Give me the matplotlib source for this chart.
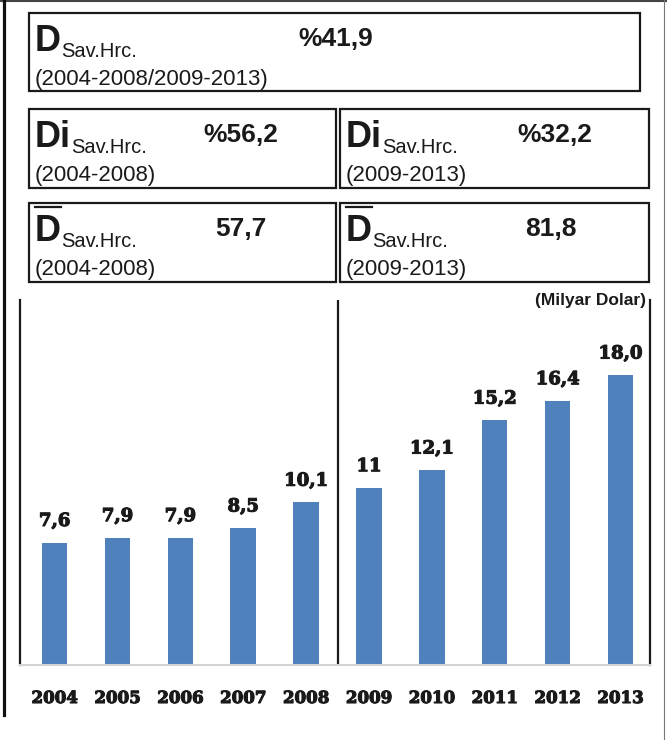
import matplotlib
matplotlib.use('Agg')
import matplotlib.pyplot as plt
import matplotlib.patheffects as pe
from matplotlib.patches import Rectangle
from matplotlib.lines import Line2D

# bar data (Milyar Dolar)
years = ['2004', '2005', '2006', '2007', '2008', '2009', '2010', '2011', '2012', '2013']
values = [7.6, 7.9, 7.9, 8.5, 10.1, 11.0, 12.1, 15.2, 16.4, 18.0]
value_labels = ['7,6', '7,9', '7,9', '8,5', '10,1', '11', '12,1', '15,2', '16,4', '18,0']
unit_label = '(Milyar Dolar)'

# summary boxes above the chart
box_symbols = ['D', 'Di', 'Di', 'D', 'D']
box_overline = [False, False, False, True, True]
box_subscript = 'Sav.Hrc.'
box_periods = ['(2004-2008/2009-2013)', '(2004-2008)', '(2009-2013)', '(2004-2008)', '(2009-2013)']
box_values = ['%41,9', '%56,2', '%32,2', '57,7', '81,8']

W, H = 667, 740
SANS = 'Liberation Sans'
SERIF = 'DejaVu Serif'
INK = '#1a1a1a'
heavy = [pe.withStroke(linewidth=0.8, foreground=INK)]


def fx(x):
    return x / W


def fy(y):
    return 1 - y / H


fig = plt.figure(figsize=(W / 100, H / 100), dpi=100)
fig.patch.set_facecolor('white')

# page frame lines
fig.add_artist(Line2D([0, 1], [fy(1), fy(1)], color='#444444', lw=1.5))
fig.add_artist(Line2D([fx(4), fx(4)], [fy(0), fy(715)], color='#111111', lw=2.3))
fig.add_artist(Line2D([fx(664), fx(664)], [0, 1], color='#777777', lw=0.8))

# ---- summary boxes ----
# (left, top, right, bottom) in pixels, plus value x position
box_rects = [(29, 13, 640, 91), (29, 109, 336, 188), (340, 109, 649, 188),
             (29, 203, 336, 282), (340, 203, 649, 282)]
value_x = [298, 203, 517, 215, 525]

renderer = fig.canvas.get_renderer()
for i, (x0, y0, x1, y1) in enumerate(box_rects):
    fig.add_artist(Rectangle((fx(x0), fy(y1)), (x1 - x0) / W, (y1 - y0) / H,
                             transform=fig.transFigure, fill=False, ec=INK, lw=1.6))
    sym = fig.text(fx(x0 + 6), fy(y0 + 38), box_symbols[i], fontsize=26, fontweight='bold',
                   family=SANS, color=INK, va='baseline', ha='left')
    bb = sym.get_window_extent(renderer)
    fig.text(bb.x1 / W, fy(y0 + 44), box_subscript, fontsize=14.5, family=SANS, color=INK,
             va='baseline', ha='left')
    if box_overline[i]:
        fig.add_artist(Line2D([bb.x0 / W, (bb.x0 + 26) / W], [fy(y0 + 4), fy(y0 + 4)],
                              color=INK, lw=1.6))
    fig.text(fx(x0 + 6), fy(y0 + 72), box_periods[i], fontsize=16, family=SANS, color=INK,
             va='baseline', ha='left')
    fig.text(fx(value_x[i]), fy(y0 + 33), box_values[i], fontsize=19, fontweight='bold',
             family=SANS, color=INK, va='baseline', ha='left')

fig.text(fx(646), fy(301), unit_label, fontsize=12.5, fontweight='bold', family=SANS,
         color=INK, ha='right', va='center')

# ---- bar chart ----
ax = fig.add_axes([fx(20), fy(665), 630 / W, 365 / H])
xs = list(range(len(years)))
ax.bar(xs, values, width=0.405, color='#4f81bd', zorder=2)
ax.set_xlim(-0.55, 9.47)
ax.set_ylim(0, 22.67)
ax.axvline(4.5, color=INK, lw=1.6)

for side in ['left', 'right']:
    ax.spines[side].set_color(INK)
    ax.spines[side].set_linewidth(1.6)
ax.spines['top'].set_visible(False)
ax.spines['bottom'].set_color('#d4d4d4')
ax.spines['bottom'].set_linewidth(1.5)

ax.set_yticks([])
ax.set_xticks(xs)
ax.set_xticklabels(years, fontsize=12, fontweight='bold', family=SERIF, color=INK)
for t in ax.get_xticklabels():
    t.set_path_effects(heavy)
ax.tick_params(axis='x', length=0, pad=18)

for x, v, lbl in zip(xs, values, value_labels):
    ax.annotate(lbl, (x, v), xytext=(0, 12), textcoords='offset points', ha='center',
                va='baseline', fontsize=13, fontweight='bold', family=SERIF, color=INK,
                path_effects=heavy)

fig.savefig('out.png', dpi=100, facecolor='white')
